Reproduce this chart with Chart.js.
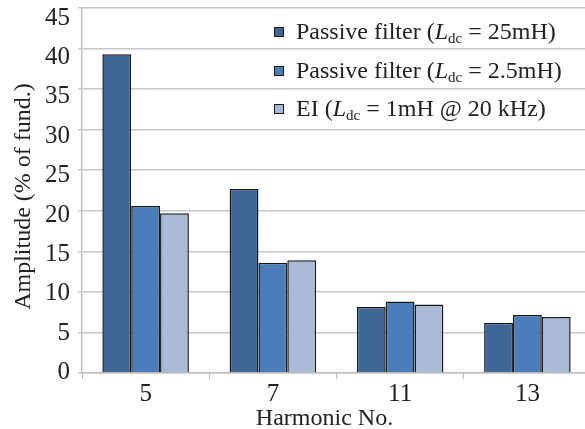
<!DOCTYPE html>
<html>
<head>
<meta charset="utf-8">
<script src="https://cdn.jsdelivr.net/npm/chart.js@4/dist/chart.umd.min.js"></script>
<style>
  html, body { margin: 0; padding: 0; background: #fff; overflow: hidden; }
  #wrap { position: relative; width: 591px; height: 429px; }
  #legend {
    position: absolute; left: 274px; top: 12px;
    font-family: "Liberation Serif", serif; font-size: 24px; color: #222;
  }
  #legend .row { height: 38.5px; line-height: 38.5px; white-space: nowrap; }
  #legend .box {
    display: inline-block; width: 8px; height: 8px; border: 1.5px solid #1a1a1a;
    margin-right: 12px; vertical-align: 2px;
  }
  #legend sub { font-size: 15px; vertical-align: -4px; line-height: 0; }
</style>
</head>
<body>
<div id="wrap">
  <canvas id="harmChart" width="591" height="429"></canvas>
  <div id="legend"></div>
</div>
<script>
// data
var harmonics = ['5', '7', '11', '13'];
var passive25 = [39.3, 22.7, 8.15, 6.2];
var passive2_5 = [20.6, 13.6, 8.8, 7.15];
var eiFilter = [19.7, 13.9, 8.45, 6.9];
var yTickValues = [0, 5, 10, 15, 20, 25, 30, 35, 40, 45];

var seriesNames = [
  ['Passive filter (', '= 25mH)'],
  ['Passive filter (', '= 2.5mH)'],
  ['EI (', '= 1mH @ 20 kHz)']
];
var seriesColors = ['#3e6797', '#4a7ebb', '#a9b9d8'];

var fontFam = '"Liberation Serif", "Times New Roman", serif';

function noEdgePadding(scale) {
  scale.paddingTop = 0;
  scale.paddingBottom = 0;
  scale.paddingLeft = 0;
  scale.paddingRight = 0;
}

var ctx = document.getElementById('harmChart').getContext('2d');
var harmChart = new Chart(ctx, {
  type: 'bar',
  data: {
    labels: harmonics,
    datasets: [
      { label: 'Passive filter (Ldc = 25mH)', data: passive25, backgroundColor: seriesColors[0] },
      { label: 'Passive filter (Ldc = 2.5mH)', data: passive2_5, backgroundColor: seriesColors[1] },
      { label: 'EI (Ldc = 1mH @ 20 kHz)', data: eiFilter, backgroundColor: seriesColors[2] }
    ]
  },
  options: {
    responsive: false,
    animation: false,
    datasets: {
      bar: {
        borderColor: '#1a1a1a',
        borderWidth: 1.5,
        borderSkipped: 'bottom',
        barPercentage: 1,
        categoryPercentage: 0.68
      }
    },
    layout: { padding: { top: 8, right: 0, left: 0, bottom: 0 } },
    plugins: {
      legend: { display: false },
      tooltip: { enabled: false }
    },
    scales: {
      x: {
        grid: { offset: true, drawOnChartArea: false, color: '#bdbdbd', tickLength: 6 },
        border: { color: '#bdbdbd', width: 1.5 },
        ticks: { font: { family: fontFam, size: 25 }, color: '#222', padding: 0 },
        title: {
          display: true, text: 'Harmonic No.\u00a0\u00a0\u00a0\u00a0',
          font: { family: fontFam, size: 24, lineHeight: 1 }, color: '#222',
          padding: { top: 0, bottom: -2 }
        },
        afterFit: function (scale) { scale.height = 56; noEdgePadding(scale); }
      },
      // value axis: grid + axis line only
      y: {
        weight: 0,
        min: 0, max: 45,
        ticks: { stepSize: 5, display: false },
        grid: { color: '#c8c8c8', lineWidth: 1.5, tickLength: 4 },
        border: { color: '#bdbdbd', width: 1.5 },
        afterFit: function (scale) { scale.width = 0; noEdgePadding(scale); }
      },
      // label axis: the original's tick labels sit on a slightly tighter spacing than its grid
      yLab: {
        position: 'left',
        weight: 1,
        min: -0.063, max: 46.27,
        grid: { display: false },
        border: { display: false },
        ticks: { font: { family: fontFam, size: 25 }, color: '#222', padding: 4 },
        afterBuildTicks: function (scale) {
          scale.ticks = yTickValues.map(function (v) { return { value: v }; });
        },
        title: {
          display: true, text: 'Amplitude (% of fund.)\u00a0\u00a0',
          font: { family: fontFam, size: 24, lineHeight: 1 }, color: '#222',
          padding: { top: 12, bottom: 0 }
        },
        afterFit: function (scale) { scale.width = 82; noEdgePadding(scale); }
      }
    }
  }
});

// html legend so the L_dc subscript stays real text
var legendDiv = document.getElementById('legend');
harmChart.data.datasets.forEach(function (ds, i) {
  var row = document.createElement('div');
  row.className = 'row';
  row.innerHTML = '<span class="box" style="background:' + ds.backgroundColor + '"></span>' +
    seriesNames[i][0] + '<i>L</i><sub>dc</sub> ' + seriesNames[i][1];
  legendDiv.appendChild(row);
});
</script>
</body>
</html>
